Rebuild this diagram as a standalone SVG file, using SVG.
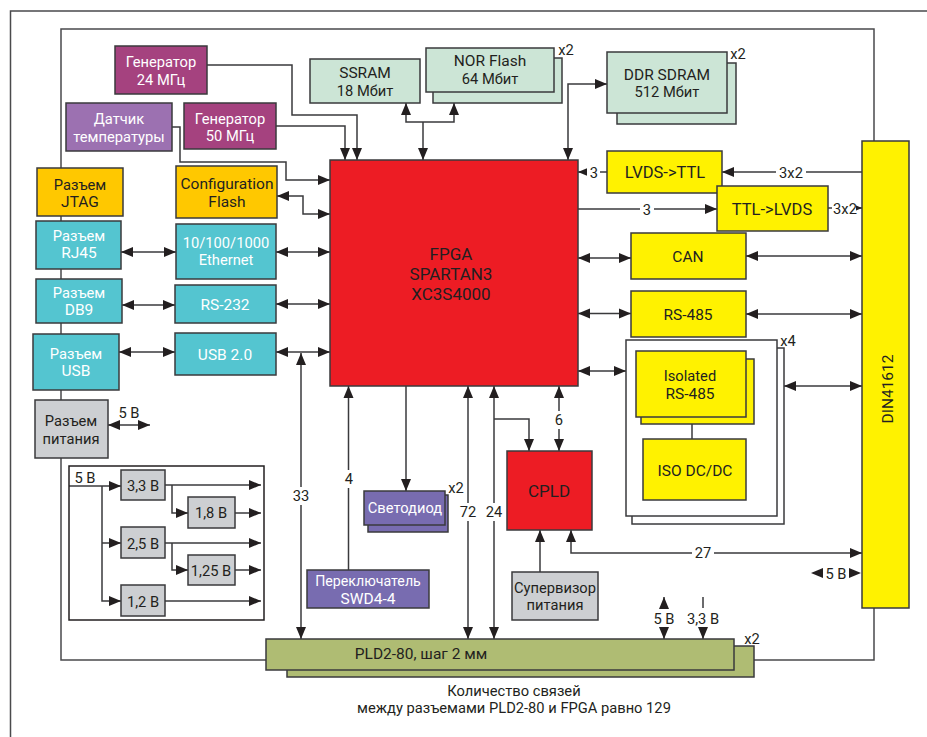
<svg xmlns="http://www.w3.org/2000/svg" width="927" height="737" viewBox="0 0 927 737">
<style>
text{font-family:Roboto,"Noto Sans","Liberation Sans",sans-serif;font-size:14.700px;fill:#231f20;text-anchor:middle}
.w{fill:#fff}
.f{font-size:17px}
.b{font-size:15.500px}
.s{font-size:14.200px}
.z{font-size:16.500px}
rect{stroke:#3a3a3c;stroke-width:1.5}
.c path{fill:none;stroke:#3a3a3c;stroke-width:1.5}
.c polygon{fill:#231f20}
.m{fill:#a5427f}.v{fill:#9c71b1}.o{fill:#ffc800}.t{fill:#54c5d0}.g{fill:#cdcfd2}.p{fill:#786cb0}.l{fill:#cce5d6}.y{fill:#fff200}.r{fill:#ed1c24}.a{fill:#afbc73}.n{fill:#fff}
.lb{fill:#fff;stroke:none}
</style>
<defs>
<marker id="e" markerUnits="userSpaceOnUse" markerWidth="13" markerHeight="13" refX="12" refY="6" orient="auto"><path d="M0 1L12 6L0 11z" fill="#231f20"/></marker>
<marker id="s" markerUnits="userSpaceOnUse" markerWidth="13" markerHeight="13" refX="0" refY="6" orient="auto"><path d="M12 1L0 6L12 11z" fill="#231f20"/></marker>
</defs>
<path d="M927 11H10.500V737" fill="none" stroke="#4a4a4c" stroke-width="1.500"/>
<path d="M266 660H61V29H874V141M874 608V660H754" fill="none" stroke="#4a4a4c" stroke-width="1.500"/>
<g class="c" id="connectors">
<path d="M207 65H292V115H357V160" marker-end="url(#e)"/>
<path d="M276 126H345V160" marker-end="url(#e)"/>
<path d="M172 127H180V162H286V180H330" marker-end="url(#e)"/>
<path d="M277 196H303V214H330" marker-start="url(#s)" marker-end="url(#e)"/>
<path d="M276 252H330" marker-start="url(#s)" marker-end="url(#e)"/>
<path d="M121 252H176" marker-start="url(#s)" marker-end="url(#e)"/>
<path d="M122 305H175" marker-start="url(#s)" marker-end="url(#e)"/>
<path d="M276 304H330" marker-start="url(#s)" marker-end="url(#e)"/>
<path d="M119 352H175" marker-start="url(#s)" marker-end="url(#e)"/>
<path d="M276 352H330" marker-start="url(#s)" marker-end="url(#e)"/>
<path d="M108 425H150" marker-start="url(#s)" marker-end="url(#e)"/>
<path d="M301 353V639" marker-start="url(#s)" marker-end="url(#e)"/>
<path d="M348.500 570V386" marker-end="url(#e)"/>
<path d="M406 386V491" marker-end="url(#e)"/>
<path d="M468 386V639" marker-start="url(#s)" marker-end="url(#e)"/>
<path d="M494 386V639" marker-start="url(#s)" marker-end="url(#e)"/>
<path d="M494 419H529V451" marker-end="url(#e)"/>
<path d="M559 386V451" marker-start="url(#s)" marker-end="url(#e)"/>
<path d="M540 572V530" marker-end="url(#e)"/>
<path d="M571 530V553H862" marker-start="url(#s)" marker-end="url(#e)"/>
<path d="M423 160V122" marker-start="url(#s)"/>
<path d="M406 103V122H454V103" marker-start="url(#s)" marker-end="url(#e)"/>
<path d="M568 160V84H607" marker-start="url(#s)" marker-end="url(#e)"/>
<path d="M607 172H578" marker-end="url(#e)"/>
<path d="M862 172H722" marker-end="url(#e)"/>
<path d="M578 209H717" marker-end="url(#e)"/>
<path d="M828 208H862"/>
<path d="M578 258H631" marker-start="url(#s)" marker-end="url(#e)"/>
<path d="M746 256H862" marker-start="url(#s)" marker-end="url(#e)"/>
<path d="M578 313.500H631" marker-start="url(#s)" marker-end="url(#e)"/>
<path d="M746 314H862" marker-start="url(#s)" marker-end="url(#e)"/>
<path d="M578 371H626" marker-start="url(#s)" marker-end="url(#e)"/>
<path d="M784 386H862" marker-start="url(#s)" marker-end="url(#e)"/>
<path d="M69 486H121" marker-end="url(#e)"/>
<path d="M102 486V601H121" marker-end="url(#e)"/>
<path d="M102 543H121" marker-end="url(#e)"/>
<path d="M165 485H261" marker-end="url(#e)"/>
<path d="M172 485V513H188" marker-end="url(#e)"/>
<path d="M235 513H261" marker-end="url(#e)"/>
<path d="M165 543H261" marker-end="url(#e)"/>
<path d="M172 543V570H188" marker-end="url(#e)"/>
<path d="M235 570H261" marker-end="url(#e)"/>
<path d="M165 601H261" marker-end="url(#e)"/>
<path d="M664 609V597" marker-end="url(#e)"/>
<path d="M664 627V639" marker-end="url(#e)"/>
<path d="M703 597V608"/>
<path d="M703 627V639" marker-end="url(#e)"/>
<polygon points="811,573 823,568 823,578"/>
<polygon points="861,573 849,568 849,578"/>
<polygon points="862,208 855,205 855,211"/>
</g>
<g id="labels">
<rect class="lb" x="292" y="487" width="18" height="18"/><text x="301" y="501">33</text>
<rect class="lb" x="342" y="470" width="14" height="18"/><text x="349" y="484">4</text>
<rect class="lb" x="458" y="503" width="20" height="18"/><text x="468" y="517">72</text>
<rect class="lb" x="484" y="503" width="20" height="18"/><text x="494" y="517">24</text>
<rect class="lb" x="553" y="411" width="12" height="18"/><text x="559" y="425">6</text>
<rect class="lb" x="692" y="545" width="22" height="16"/><text x="703" y="558">27</text>
<rect class="lb" x="587" y="164" width="13" height="16"/><text x="594" y="178">3</text>
<rect class="lb" x="776" y="164" width="30" height="16"/><text x="791" y="178">3x2</text>
<rect class="lb" x="640" y="201" width="14" height="16"/><text x="647" y="215">3</text>
<rect class="lb" x="832" y="200" width="24" height="16"/><text x="845" y="214">3x2</text>
<text x="129" y="418">5 В</text>
<text x="85" y="483">5 В</text>
<text x="836" y="579">5 В</text>
<text x="664" y="624">5 В</text>
<text x="703" y="624">3,3 В</text>
<text x="566" y="55">x2</text>
<text x="738" y="59">x2</text>
<text x="456" y="493">x2</text>
<text x="788" y="346">x4</text>
<text x="757" y="358">x2</text>
<text x="752" y="644">x2</text>
<text x="514" y="696">Количество связей</text>
<text x="514" y="713">между разъемами PLD2-80 и FPGA равно 129</text>
</g>
<g id="gen24"><rect class="m" x="115" y="46" width="92" height="48"/><text class="w" x="161" y="67">Генератор</text><text class="w" x="161" y="85">24 МГц</text></g>
<g id="temp"><rect class="v" x="66" y="103" width="106" height="48"/><text class="w" x="119" y="124">Датчик</text><text class="w" x="119" y="142">температуры</text></g>
<g id="gen50"><rect class="m" x="184" y="103" width="92" height="46"/><text class="w" x="230" y="124">Генератор</text><text class="w" x="230" y="141">50 МГц</text></g>
<g id="jtag"><rect class="o" x="37" y="168" width="86" height="48"/><text x="80" y="190">Разъем</text><text class="b" x="80" y="207">JTAG</text></g>
<g id="config"><rect class="o" x="176" y="166" width="101" height="52"/><text class="b" x="227" y="189">Configuration</text><text class="b" x="227" y="207">Flash</text></g>
<g id="rj45"><rect class="t" x="36" y="221" width="85" height="48"/><text class="w" x="79" y="241">Разъем</text><text class="w b" x="79" y="258">RJ45</text></g>
<g id="eth"><rect class="t" x="176" y="224" width="100" height="55"/><text class="w" x="226" y="248">10/100/1000</text><text class="w" x="226" y="265">Ethernet</text></g>
<g id="db9"><rect class="t" x="36" y="279" width="86" height="44"/><text class="w" x="79" y="298">Разъем</text><text class="w b" x="79" y="315">DB9</text></g>
<g id="rs232"><rect class="t" x="175" y="285" width="101" height="38"/><text class="w b" x="225" y="310">RS-232</text></g>
<g id="usbc"><rect class="t" x="33" y="334" width="86" height="56"/><text class="w" x="76" y="359">Разъем</text><text class="w b" x="76" y="376">USB</text></g>
<g id="usb"><rect class="t" x="175" y="333" width="101" height="42"/><text class="w b" x="225" y="360">USB 2.0</text></g>
<g id="pwr"><rect class="g" x="35" y="400" width="73" height="58"/><text x="71" y="426">Разъем</text><text x="71" y="444">питания</text></g>
<path d="M69 466H264V620H69z" fill="none" stroke="#231f20" stroke-width="1.500"/>
<g id="v33"><rect class="g" x="121" y="470" width="44" height="30"/><text x="143" y="491">3,3 В</text></g>
<g id="v18"><rect class="g" x="188" y="497" width="47" height="31"/><text x="211" y="518">1,8 В</text></g>
<g id="v25"><rect class="g" x="121" y="527" width="44" height="31"/><text x="143" y="549">2,5 В</text></g>
<g id="v125"><rect class="g" x="188" y="555" width="47" height="30"/><text x="211" y="576">1,25 В</text></g>
<g id="v12"><rect class="g" x="121" y="585" width="44" height="31"/><text x="143" y="607">1,2 В</text></g>
<g id="led"><rect class="p" x="368" y="495" width="80" height="37"/><rect class="p" x="364" y="491" width="81" height="34"/><text class="w" x="405" y="513">Светодиод</text></g>
<g id="sw"><rect class="p" x="307" y="570" width="122" height="38"/><text class="w s" x="368" y="586">Переключатель</text><text class="w b" x="368" y="604">SWD4-4</text></g>
<g id="pld"><rect class="a" x="287" y="646" width="467" height="31"/><rect class="a" x="266" y="639" width="468" height="31"/><text class="b" x="421" y="659">PLD2-80, шаг 2 мм</text></g>
<g id="fpga"><rect class="r" x="330" y="160" width="248" height="226"/><text class="f" x="451" y="260">FPGA</text><text class="f" x="451" y="280">SPARTAN3</text><text class="f" x="451" y="300">XC3S4000</text></g>
<g id="cpld"><rect class="r" x="507" y="451" width="85" height="79"/><text class="f" x="549" y="497">CPLD</text></g>
<g id="sup"><rect class="g" x="512" y="572" width="86" height="48"/><text x="555" y="593">Супервизор</text><text x="555" y="610">питания</text></g>
<g id="ssram"><rect class="l" x="310" y="59" width="110" height="44"/><text class="b" x="365" y="78">SSRAM</text><text x="365" y="96">18 Мбит</text></g>
<g id="nor"><rect class="l" x="433" y="58" width="129" height="45"/><rect class="l" x="426" y="48" width="128" height="44"/><text class="b" x="490" y="66">NOR Flash</text><text x="490" y="84">64 Мбит</text></g>
<g id="ddr"><rect class="l" x="617" y="63" width="119" height="61"/><rect class="l" x="607" y="52" width="120" height="61"/><text class="b" x="667" y="80">DDR SDRAM</text><text x="667" y="97">512 Мбит</text></g>
<g id="lvds"><rect class="y" x="607" y="151" width="115" height="42"/><text class="z" x="665" y="178">LVDS-&gt;TTL</text></g>
<g id="ttl"><rect class="y" x="717" y="186" width="111" height="45"/><text class="z" x="772" y="215">TTL-&gt;LVDS</text></g>
<g id="can"><rect class="y" x="631" y="233" width="115" height="46"/><text class="b" x="688" y="262">CAN</text></g>
<g id="rs485"><rect class="y" x="631" y="291" width="115" height="46"/><text class="b" x="688" y="320">RS-485</text></g>
<g id="box"><rect class="n" x="632" y="348" width="152" height="176"/><rect class="n" x="626" y="340" width="151" height="176"/><rect class="y" x="641" y="359" width="113" height="65"/><rect class="y" x="636" y="351" width="110" height="66"/><text x="690" y="381">Isolated</text><text class="b" x="690" y="399">RS-485</text><path d="M692 424V439" fill="none" stroke="#3a3a3c" stroke-width="1.500"/><rect class="y" x="643" y="439" width="103" height="61"/><text class="b" x="695" y="476">ISO DC/DC</text></g>
<g id="din"><rect class="y" x="862" y="141" width="47" height="467"/><text class="b" transform="translate(893 389) rotate(-90)">DIN41612</text></g>
</svg>
